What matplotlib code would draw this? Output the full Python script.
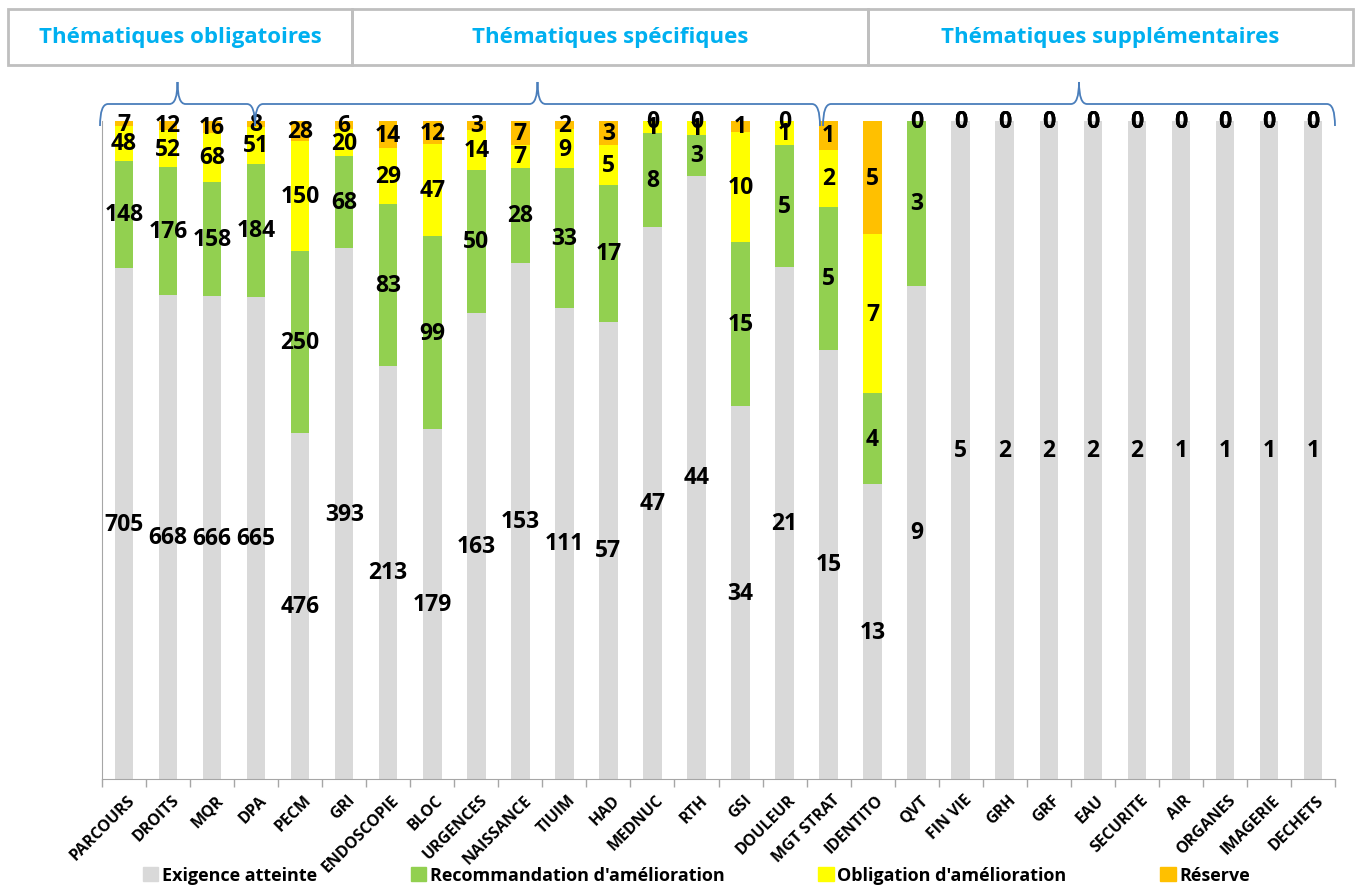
import numpy as np
import matplotlib
matplotlib.use("Agg")
import matplotlib.pyplot as plt
import matplotlib.transforms as mtransforms
from matplotlib.patches import Rectangle, PathPatch, Patch
from matplotlib.path import Path

plt.rcParams['font.family'] = ['Open Sans', 'DejaVu Sans']

categories = ["PARCOURS", "DROITS", "MQR", "DPA", "PECM", "GRI", "ENDOSCOPIE", "BLOC",
              "URGENCES", "NAISSANCE", "TIUIM", "HAD", "MEDNUC", "RTH", "GSI", "DOULEUR",
              "MGT STRAT", "IDENTITO", "QVT", "FIN VIE", "GRH", "GRF", "EAU", "SECURITE",
              "AIR", "ORGANES", "IMAGERIE", "DECHETS"]
exigence = [705, 668, 666, 665, 476, 393, 213, 179, 163, 153, 111, 57, 47, 44, 34, 21,
            15, 13, 9, 5, 2, 2, 2, 2, 1, 1, 1, 1]
recommandation = [148, 176, 158, 184, 250, 68, 83, 99, 50, 28, 33, 17, 8, 3, 15, 5,
                  5, 4, 3, 0, 0, 0, 0, 0, 0, 0, 0, 0]
obligation = [48, 52, 68, 51, 150, 20, 29, 47, 14, 7, 9, 5, 1, 1, 10, 1,
              2, 7, 0, 0, 0, 0, 0, 0, 0, 0, 0, 0]
reserve = [7, 12, 16, 8, 28, 6, 14, 12, 3, 7, 2, 3, 0, 0, 1, 0,
           1, 5, 0, 0, 0, 0, 0, 0, 0, 0, 0, 0]

series = [("Exigence atteinte", exigence, "#D9D9D9"),
          ("Recommandation d'amélioration", recommandation, "#92D050"),
          ("Obligation d'amélioration", obligation, "#FFFF00"),
          ("Réserve", reserve, "#FFC000")]

groups = [("Thématiques obligatoires", 8, 352),
          ("Thématiques spécifiques", 352, 868),
          ("Thématiques supplémentaires", 868, 1353)]
# braces over the bars, in pixels (left, right)
brace_spans = [(100, 255), (255, 820), (823, 1335)]

W, H = 1355, 887
fig = plt.figure(figsize=(W / 100, H / 100), dpi=100)
ax = fig.add_axes([102 / W, 1 - 780 / H, 1233 / W, 658 / H])

totals = np.sum([s[1] for s in series], axis=0).astype(float)
x = np.arange(len(categories))
bottom = np.zeros(len(categories))
for name, vals, col in series:
    v = np.array(vals, dtype=float)
    frac = v / totals
    bars = ax.bar(x, frac, 0.42, bottom=bottom, color=col, label=name)
    ax.bar_label(bars, labels=[str(int(a)) for a in v], label_type='center',
                 fontsize=16.5, fontweight='bold', color='black')
    bottom += frac

ax.set_xlim(-0.5, len(categories) - 0.5)
ax.set_ylim(0, 1)
ax.set_yticks([])
ax.set_xticks(x)
ax.set_xticklabels(categories, rotation=45, ha='right', rotation_mode='anchor',
                   fontsize=11.5, fontweight='bold')
ax.tick_params(axis='x', which='major', length=0, pad=9)
shift = mtransforms.ScaledTranslation(3 / 100, 0, fig.dpi_scale_trans)
for lab in ax.get_xticklabels():
    lab.set_transform(lab.get_transform() + shift)
ax.set_xticks(np.arange(-0.5, len(categories), 1), minor=True)
ax.tick_params(axis='x', which='minor', length=6, color='#A6A6A6', width=1)
for s in ['top', 'right']:
    ax.spines[s].set_visible(False)
for s in ['left', 'bottom']:
    ax.spines[s].set_color('#A6A6A6')

# overlay in pixel coordinates for header boxes and braces
ov = fig.add_axes([0, 0, 1, 1], zorder=5)
ov.set_xlim(0, W)
ov.set_ylim(H, 0)
ov.axis('off')

for label, x0, x1 in groups:
    ov.add_patch(Rectangle((x0, 10), x1 - x0, 56, fill=False, edgecolor='#BFBFBF', lw=2))
    ov.text((x0 + x1) / 2, 38, label, ha='center', va='center', color='#00B0F0',
            fontsize=16, fontweight='bold')


def brace(x0, x1, yh=105, ypk=83, yb=127, r=8):
    xm = (x0 + x1) / 2
    verts = [(x0, yb), (x0, yh), (x0 + r, yh),
             (xm - r, yh), (xm, yh), (xm, ypk),
             (xm, yh), (xm + r, yh),
             (x1 - r, yh), (x1, yh), (x1, yb)]
    codes = [Path.MOVETO, Path.CURVE3, Path.CURVE3,
             Path.LINETO, Path.CURVE3, Path.CURVE3,
             Path.CURVE3, Path.CURVE3,
             Path.LINETO, Path.CURVE3, Path.CURVE3]
    ov.add_patch(PathPatch(Path(verts, codes), fill=False, edgecolor='#4A7EBB', lw=1.3))


for a, b in brace_spans:
    brace(a, b)

handles = [Patch(color=c, label=n) for n, _, c in series]
fig.legend(handles=handles, ncol=4, loc='center', bbox_to_anchor=(0.514, 0.012),
           frameon=False, prop={'weight': 'bold', 'size': 13},
           handlelength=0.85, handleheight=0.85, handletextpad=0.2, columnspacing=5.2)

fig.savefig("out.png", dpi=100)
